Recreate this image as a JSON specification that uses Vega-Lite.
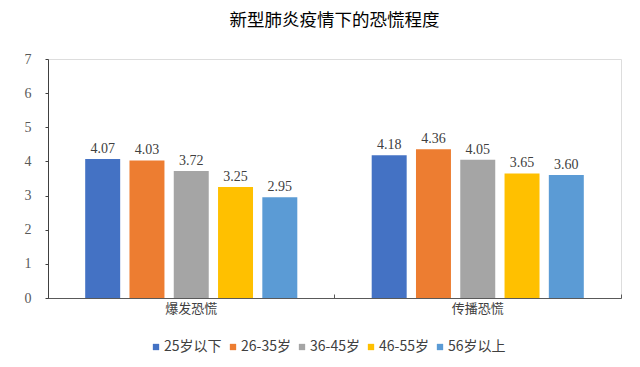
{
  "$schema": "https://vega.github.io/schema/vega-lite/v6.json",
  "width": 573,
  "height": 239,
  "autosize": "none",
  "padding": {"left": 48, "top": 59, "right": 19, "bottom": 69},
  "background": "white",
  "title": {
    "text": "新型肺炎疫情下的恐慌程度",
    "font": "Noto Sans CJK SC",
    "fontSize": 17.5,
    "fontWeight": "normal",
    "color": "#000000",
    "anchor": "middle",
    "frame": "group",
    "offset": 23
  },
  "data": {
    "values": [
      {"类别": "爆发恐慌", "年龄": "25岁以下", "值": 4.07},
      {"类别": "爆发恐慌", "年龄": "26-35岁", "值": 4.03},
      {"类别": "爆发恐慌", "年龄": "36-45岁", "值": 3.72},
      {"类别": "爆发恐慌", "年龄": "46-55岁", "值": 3.25},
      {"类别": "爆发恐慌", "年龄": "56岁以上", "值": 2.95},
      {"类别": "传播恐慌", "年龄": "25岁以下", "值": 4.18},
      {"类别": "传播恐慌", "年龄": "26-35岁", "值": 4.36},
      {"类别": "传播恐慌", "年龄": "36-45岁", "值": 4.05},
      {"类别": "传播恐慌", "年龄": "46-55岁", "值": 3.65},
      {"类别": "传播恐慌", "年龄": "56岁以上", "值": 3.60}
    ]
  },
  "encoding": {
    "x": {
      "field": "类别",
      "type": "nominal",
      "sort": ["爆发恐慌", "传播恐慌"],
      "scale": {"paddingInner": 0, "paddingOuter": 0},
      "axis": {
        "title": null,
        "labelAngle": 0,
        "labelFont": "Noto Sans CJK SC",
        "labelFontSize": 13,
        "labelColor": "#404040",
        "labelPadding": 8,
        "domainColor": "#595959",
        "tickColor": "#595959",
        "bandPosition": 1,
        "tickExtra": true,
        "tickSize": -4
      }
    },
    "xOffset": {
      "field": "年龄",
      "type": "nominal",
      "sort": ["25岁以下", "26-35岁", "36-45岁", "46-55岁", "56岁以上"],
      "scale": {"paddingInner": 0.21, "paddingOuter": 0.84}
    },
    "y": {
      "field": "值",
      "type": "quantitative",
      "scale": {"domain": [0, 7], "nice": false},
      "axis": {
        "title": null,
        "grid": false,
        "values": [0, 1, 2, 3, 4, 5, 6, 7],
        "labelOverlap": false,
        "labelFlush": false,
        "labelFont": "Liberation Serif",
        "labelFontSize": 14,
        "labelColor": "#595959",
        "labelPadding": 14,
        "tickSize": 3,
        "domainColor": "#404040",
        "tickColor": "#404040"
      }
    }
  },
  "layer": [
    {
      "mark": {"type": "bar"},
      "encoding": {
        "color": {
          "field": "年龄",
          "type": "nominal",
          "sort": ["25岁以下", "26-35岁", "36-45岁", "46-55岁", "56岁以上"],
          "scale": {"range": ["#4472C4", "#ED7D31", "#A5A5A5", "#FFC000", "#5B9BD5"]},
          "legend": {
            "title": null,
            "orient": "none",
            "legendX": 101,
            "legendY": 281,
            "direction": "horizontal",
            "symbolType": "square",
            "symbolSize": 40,
            "symbolStrokeWidth": 0,
            "labelFont": "Noto Sans CJK SC",
            "labelFontSize": 14,
            "labelColor": "#404040",
            "labelOffset": 1,
            "columnPadding": 4,
            "gridAlign": "none"
          }
        }
      }
    },
    {
      "mark": {"type": "text", "dy": -10, "font": "Liberation Serif", "fontSize": 14, "color": "#404040"},
      "encoding": {
        "text": {"field": "值", "type": "quantitative", "format": ".2f"}
      }
    }
  ]
}
